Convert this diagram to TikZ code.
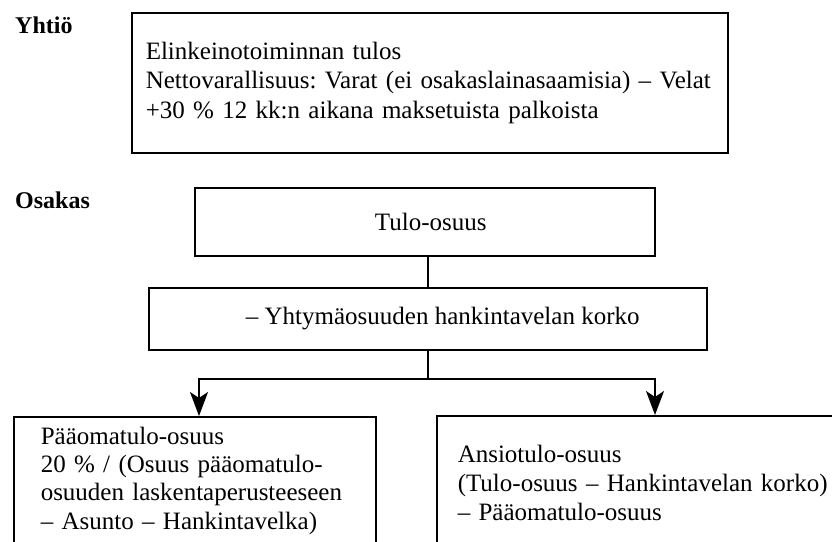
\documentclass[tikz,border=0pt]{standalone}
\usepackage{fontspec}
\setmainfont{Liberation Serif}
\usetikzlibrary{arrows.meta}
\frenchspacing

\tikzset{
    laatikko/.style={draw, line width=1.5pt, anchor=north west, inner xsep=16pt, inner ysep=0pt,
        align=left, font=\fontsize{25}{29.5}\selectfont},
    otsikko/.style={anchor=base west, inner sep=0pt, font=\fontsize{24}{28}\selectfont\bfseries},
    nuoli/.style={line width=1.5pt, -{Stealth[length=24pt, width=18pt, inset=6pt]}}
}

\begin{document}
\begin{tikzpicture}[x=1pt, y=-1pt]
    \useasboundingbox (0,0) rectangle (832,541);
    \coordinate (Y1) at (15, 33);
    \coordinate (O1) at (15, 208);
    \coordinate (T1) at (131, 12);
    \coordinate (T2) at (194, 187);
    \coordinate (K1) at (148, 287);
    \coordinate (P1) at (13, 416);
    \coordinate (A1) at (436, 415);
    \coordinate (haaraV) at (199, 379);
    \coordinate (haaraO) at (655, 379);

    % otsikot
    \node[otsikko] (yhtio) at (Y1) {Yhtiö};
    \node[otsikko] (osakas) at (O1) {Osakas};

    % laatikot
    \node[laatikko, inner xsep=14pt, text width=568pt, minimum height=140pt] (tulos) at (T1)
        {Elinkeinotoiminnan tulos\\
         Nettovarallisuus: Varat (ei osakaslainasaamisia) – Velat\\
         +30 \% 12 kk:n aikana maksetuista palkoista};
    \node[laatikko, minimum width=460pt, minimum height=68pt] (tulo) at (T2) {\hspace*{12pt}Tulo-osuus};
    \node[laatikko, minimum width=558pt, minimum height=62pt] (korko) at (K1)
        {\hspace*{30pt}– Yhtymäosuuden hankintavelan korko};
    \node[laatikko, inner xsep=27pt, text width=308pt, minimum height=128pt,
        font=\fontsize{25}{28.3}\selectfont] (paaoma) at (P1)
        {Pääomatulo-osuus\\
         20 \% / (Osuus pääomatulo-\\
         osuuden laskentaperusteeseen\\
         – Asunto – Hankintavelka)};
    \node[laatikko, inner xsep=21pt, text width=378pt, minimum height=134pt,
        font=\fontsize{25}{29}\selectfont] (ansio) at (A1)
        {Ansiotulo-osuus\\
         (Tulo-osuus – Hankintavelan korko)\\
         – Pääomatulo-osuus};

    % yhteydet
    \draw[line width=1.5pt] (korko.north |- tulo.south) -- (korko.north);
    \draw[nuoli] (korko.south) |- (haaraV) -- (haaraV |- paaoma.north);
    \draw[nuoli] (korko.south |- haaraO) -- (haaraO) -- (haaraO |- ansio.north);
\end{tikzpicture}
\end{document}
